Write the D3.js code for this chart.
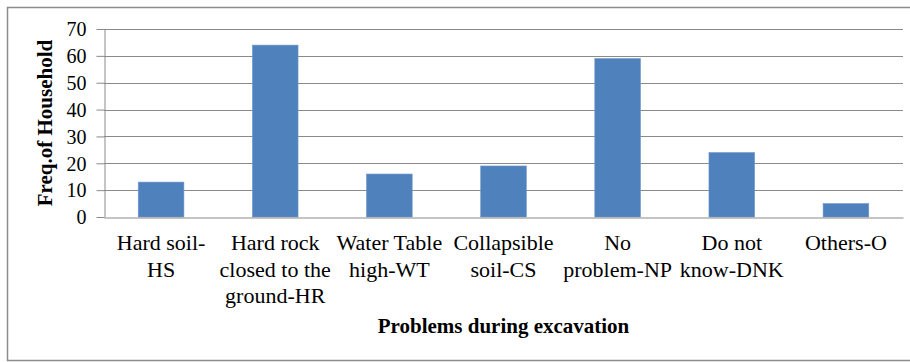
<!DOCTYPE html>
<html><head><meta charset="utf-8">
<script src="https://cdn.jsdelivr.net/npm/d3@7"></script>
<style>html,body{margin:0;padding:0;background:#fff;}svg{display:block;}</style>
</head><body>
<svg id="chart" width="910" height="362"></svg>
<script>
const categories = [
  ["Hard soil-", "HS"],
  ["Hard rock", "closed to the", "ground-HR"],
  ["Water Table", "high-WT"],
  ["Collapsible", "soil-CS"],
  ["No", "problem-NP"],
  ["Do not", "know-DNK"],
  ["Others-O"]
];
const values = [13, 64, 16, 19, 59, 24, 5];
const yTicks = [0, 10, 20, 30, 40, 50, 60, 70];
const yTitle = "Freq.of Household";
const xTitle = "Problems during excavation";

const FF = '"Liberation Serif"';
const svg = d3.select("#chart");
const m = {left: 104, right: 7, top: 29, bottom: 145};
const W = 910, H = 362;

svg.append("rect").attr("x", 7.5).attr("y", 7.5).attr("width", 910).attr("height", 353)
  .attr("fill", "#fff").attr("stroke", "#8c8c8c").attr("stroke-width", 1.5);

const keys = categories.map((c, i) => i);
const x = d3.scaleBand().domain(keys).range([m.left, W - m.right]).paddingInner(0.6).paddingOuter(0.3);
const y = d3.scaleLinear().domain([0, 70]).range([H - m.bottom, m.top]);

// gridlines
svg.append("g").selectAll("line").data(yTicks.filter(t => t > 0)).join("line")
  .attr("x1", m.left).attr("x2", W - m.right)
  .attr("y1", d => Math.round(y(d)) + 0.5).attr("y2", d => Math.round(y(d)) + 0.5)
  .attr("stroke", "#8a8a8a").attr("stroke-width", 1);

// bars
svg.append("g").selectAll("rect").data(values).join("rect")
  .attr("x", (d, i) => x(i)).attr("width", x.bandwidth())
  .attr("y", d => y(d)).attr("height", d => y(0) - y(d))
  .attr("fill", "#4F81BD").attr("stroke", "#6e97cb").attr("stroke-width", 0.6);

// y axis
const yAxis = svg.append("g").attr("transform", `translate(${m.left + 0.5},0)`)
  .call(d3.axisLeft(y).tickValues(yTicks).tickSize(8).tickPadding(10).tickSizeOuter(0));
yAxis.select(".domain").attr("stroke", "#8a8a8a");
yAxis.selectAll(".tick line").attr("stroke", "#8a8a8a");
yAxis.selectAll(".tick text").style("font-family", FF).style("font-size", "20px").attr("fill", "#000").attr("dy", "0.34em");

// x axis baseline
const xAxis = svg.append("g").attr("transform", `translate(0,${Math.round(y(0)) + 0.5})`)
  .call(d3.axisBottom(x).tickSize(0).tickFormat(""));
xAxis.select(".domain").attr("stroke", "#8a8a8a");

// category labels
const lab = svg.append("g");
categories.forEach((lines, i) => {
  const t = lab.append("text").style("font-family", FF).style("font-size", "22px")
    .attr("text-anchor", "middle").attr("fill", "#000");
  lines.forEach((ln, j) => {
    t.append("tspan").attr("x", x(i) + x.bandwidth() / 2).attr("y", 250 + j * 26.5).text(ln);
  });
});

// axis titles
svg.append("text").attr("x", (m.left + W - m.right) / 2).attr("y", 333)
  .attr("text-anchor", "middle").style("font-family", FF).style("font-weight", "bold")
  .style("font-size", "21px").text(xTitle);
svg.append("text").attr("transform", `translate(52,${(m.top + H - m.bottom) / 2}) rotate(-90)`)
  .attr("text-anchor", "middle").style("font-family", FF).style("font-weight", "bold")
  .style("font-size", "21px").text(yTitle);
</script>
</body></html>
